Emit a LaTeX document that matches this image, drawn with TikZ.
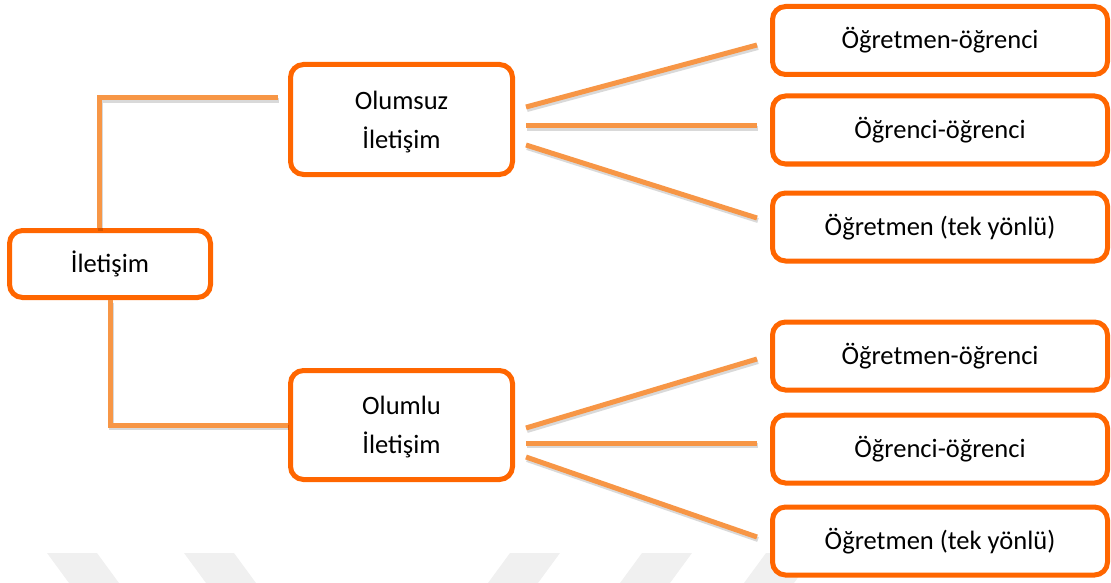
\documentclass[tikz,border=0pt]{standalone}
\usepackage{fontspec}
\setmainfont{Carlito}
\usepackage{xcolor}
\usepackage{tikz}
\usetikzlibrary{positioning,calc}
\definecolor{boxorange}{RGB}{255,102,0}
\definecolor{lineorange}{RGB}{247,150,70}

\begin{document}
\begin{tikzpicture}[x=1pt, y=-1pt,
    box/.style={draw=boxorange, line width=5pt, rounded corners=13pt, fill=white, align=center, inner sep=0pt, font=\fontsize{26.5}{39}\selectfont},
    leaf/.style={box, minimum width=335pt, minimum height=68pt},
    conn/.style={draw=lineorange, line width=5pt, preaction={draw=black, opacity=0.15, line width=5pt, transform canvas={shift={(1pt,-2.5pt)}}}}]
    \useasboundingbox (0, 0) rectangle (1111, 583);
    % faint watermark at the bottom
    \foreach \wx in {47, 184} \fill[black!6] (\wx, 553) -- (\wx+50, 553) -- (\wx+72, 583) -- (\wx+22, 583) -- cycle;
    \foreach \wx in {510, 642, 766} \fill[black!6] (\wx, 553) -- (\wx+50, 553) -- (\wx+28, 583) -- (\wx-22, 583) -- cycle;

    \node[box, minimum width=201pt, minimum height=67pt] (iletisim) at (110, 264) {İletişim};
    \node[box, minimum width=222pt, minimum height=110pt, text depth=0pt] (olumsuz) at (401.5, 119.5) {Olumsuz\\İletişim};
    \node[box, minimum width=222pt, minimum height=109pt, text depth=0pt] (olumlu) at (401.5, 425) {Olumlu\\İletişim};

    \node[leaf] (neg1) at (940, 40.5) {Öğretmen-öğrenci};
    \node[leaf] (neg2) at (940, 130) {Öğrenci-öğrenci};
    \node[leaf] (neg3) at (940, 227) {Öğretmen (tek yönlü)};
    \node[leaf] (pos1) at (940, 356) {Öğretmen-öğrenci};
    \node[leaf] (pos2) at (940, 449) {Öğrenci-öğrenci};
    \node[leaf] (pos3) at (940, 541) {Öğretmen (tek yönlü)};

    \draw[conn] ([xshift=-11pt]iletisim.north) |- ([xshift=-10pt, yshift=21.5pt]olumsuz.west);
    \draw[conn] (iletisim.south) |- (olumlu.west);

    \draw[conn] ([xshift=11pt, yshift=12.5pt]olumsuz.east) -- ([xshift=-13pt, yshift=-4.5pt]neg1.west);
    \draw[conn] ([xshift=11pt, yshift=-6.5pt]olumsuz.east) -- ([xshift=-13pt, yshift=4pt]neg2.west);
    \draw[conn] ([xshift=11pt, yshift=-25.5pt]olumsuz.east) -- ([xshift=-13pt, yshift=9pt]neg3.west);

    \draw[conn] ([xshift=11pt, yshift=-3pt]olumlu.east) -- ([xshift=-13pt, yshift=-3pt]pos1.west);
    \draw[conn] ([xshift=11pt, yshift=-18pt]olumlu.east) -- ([xshift=-13pt, yshift=6pt]pos2.west);
    \draw[conn] ([xshift=11pt, yshift=-32pt]olumlu.east) -- ([xshift=-13pt, yshift=4pt]pos3.west);
\end{tikzpicture}
\end{document}
